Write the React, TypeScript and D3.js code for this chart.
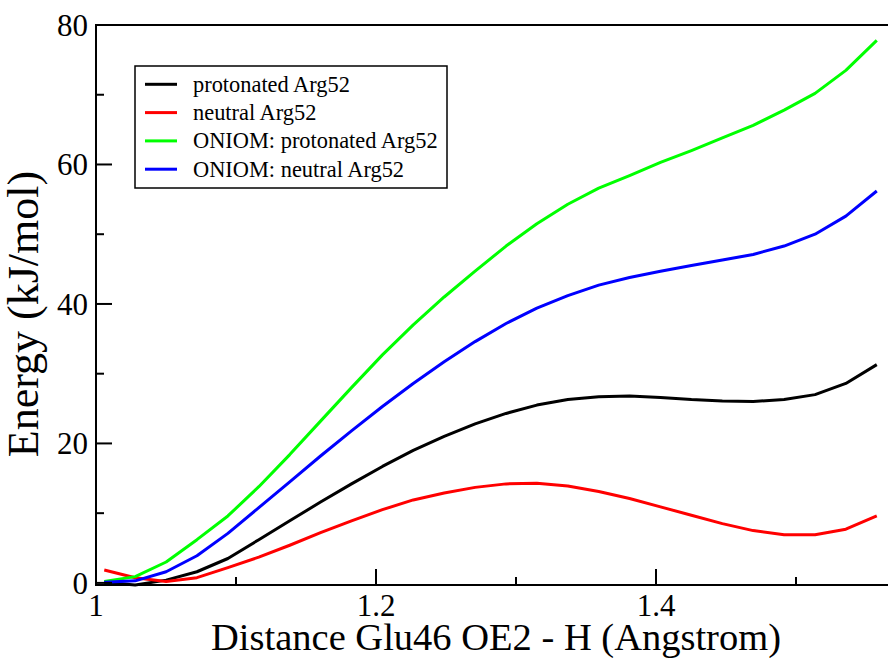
import React from "react";
import * as d3 from "d3";

const xValues = [
  1.0059, 1.0280, 1.0501, 1.0721, 1.0942, 1.1163, 1.1384, 1.1604, 1.1825, 1.2046,
  1.2266, 1.2487, 1.2708, 1.2929, 1.3149, 1.3370, 1.3591, 1.3811, 1.4032, 1.4253,
  1.4474, 1.4694, 1.4915, 1.5136, 1.5356, 1.5577,
];
const protonated = [
  0.1, -0.3, 0.4, 1.6, 3.5, 6.2, 8.9, 11.6, 14.2, 16.7,
  19.0, 21.0, 22.8, 24.3, 25.5, 26.3, 26.7, 26.8, 26.6, 26.3,
  26.1, 26.0, 26.3, 27.0, 28.6, 31.3,
];
const neutral = [
  1.85, 0.75, 0.2, 0.75, 2.2, 3.7, 5.4, 7.2, 8.9, 10.5,
  11.9, 12.9, 13.7, 14.2, 14.3, 13.9, 13.1, 12.1, 10.9, 9.7,
  8.5, 7.5, 6.9, 6.9, 7.7, 9.6,
];
const oniomProtonated = [
  0.2, 0.9, 3.0, 6.2, 9.6, 13.8, 18.4, 23.2, 28.0, 32.7,
  37.0, 41.0, 44.7, 48.3, 51.5, 54.3, 56.6, 58.4, 60.3, 62.0,
  63.8, 65.6, 67.8, 70.2, 73.5, 77.8,
];
const oniomNeutral = [
  0.1, 0.3, 1.6, 3.9, 7.1, 10.8, 14.5, 18.2, 21.8, 25.3,
  28.6, 31.7, 34.6, 37.2, 39.4, 41.2, 42.7, 43.8, 44.7, 45.5,
  46.3, 47.1, 48.3, 50.0, 52.6, 56.2,
];

const seriesNames = ["protonated Arg52", "neutral Arg52", "ONIOM: protonated Arg52", "ONIOM: neutral Arg52"];
const seriesColors = ["#000000", "#ff0000", "#00ff00", "#0000ff"];
const seriesData = [protonated, neutral, oniomProtonated, oniomNeutral];

const xTicks = [1, 1.2, 1.4];
const xTickLabels = ["1", "1.2", "1.4"];
const xMinorTicks = [1.1, 1.3, 1.5];
const yTicks = [0, 20, 40, 60, 80];
const yMinorTicks = [10, 30, 50, 70];

const W = 888;
const H = 658;
const left = 96;
const top = 25;
const bottom = 585;

export default function App() {
  const x = d3.scaleLinear().domain([1, 1.6]).range([left, left + 840]);
  const y = d3.scaleLinear().domain([-0.3, 80]).range([bottom, top]);
  const line = d3
    .line<number>()
    .x((_, i) => x(xValues[i]))
    .y((d) => y(d));
  const font = "'Liberation Serif', 'Times New Roman', serif";

  return (
    <svg
      width={W}
      height={H}
      style={{ position: "absolute", left: 0, top: 0, background: "#fff" }}
      fontFamily={font}
    >
      <rect x={0} y={0} width={W} height={H} fill="#fff" />
      {seriesData.map((s, k) => (
        <path
          key={k}
          d={line(s) || ""}
          fill="none"
          stroke={seriesColors[k]}
          strokeWidth={3}
          strokeLinejoin="round"
        />
      ))}
      <rect
        x={left}
        y={top}
        width={840}
        height={bottom - top}
        fill="none"
        stroke="#000"
        strokeWidth={2}
      />
      {yTicks.map((t) => (
        <g key={"y" + t}>
          <line x1={left} x2={left + 16} y1={y(t)} y2={y(t)} stroke="#000" strokeWidth={2} />
          <text x={88} y={y(t)} dy="0.35em" textAnchor="end" fontSize={31}>
            {t}
          </text>
        </g>
      ))}
      {yMinorTicks.map((t) => (
        <line key={"ym" + t} x1={left} x2={left + 8} y1={y(t)} y2={y(t)} stroke="#000" strokeWidth={2} />
      ))}
      {xTicks.map((t, i) => (
        <g key={"x" + t}>
          <line x1={x(t)} x2={x(t)} y1={bottom} y2={bottom - 16} stroke="#000" strokeWidth={2} />
          <text x={x(t)} y={616} textAnchor="middle" fontSize={31}>
            {xTickLabels[i]}
          </text>
        </g>
      ))}
      {xMinorTicks.map((t) => (
        <line key={"xm" + t} x1={x(t)} x2={x(t)} y1={bottom} y2={bottom - 8} stroke="#000" strokeWidth={2} />
      ))}
      <text x={496} y={650} textAnchor="middle" fontSize={38.5}>
        Distance Glu46 OE2 - H (Angstrom)
      </text>
      <text
        transform="translate(38,314) rotate(-90)"
        textAnchor="middle"
        fontSize={44}
      >
        Energy (kJ/mol)
      </text>
      <rect x={135} y={66} width={312} height={122} fill="#fff" stroke="#000" strokeWidth={1.5} />
      {seriesNames.map((n, k) => {
        const ly = 84.3 + k * 28.3;
        return (
          <g key={n}>
            <line x1={145} x2={177} y1={ly} y2={ly} stroke={seriesColors[k]} strokeWidth={3} />
            <text x={193} y={ly} dy="0.33em" fontSize={22.4}>
              {n}
            </text>
          </g>
        );
      })}
    </svg>
  );
}
